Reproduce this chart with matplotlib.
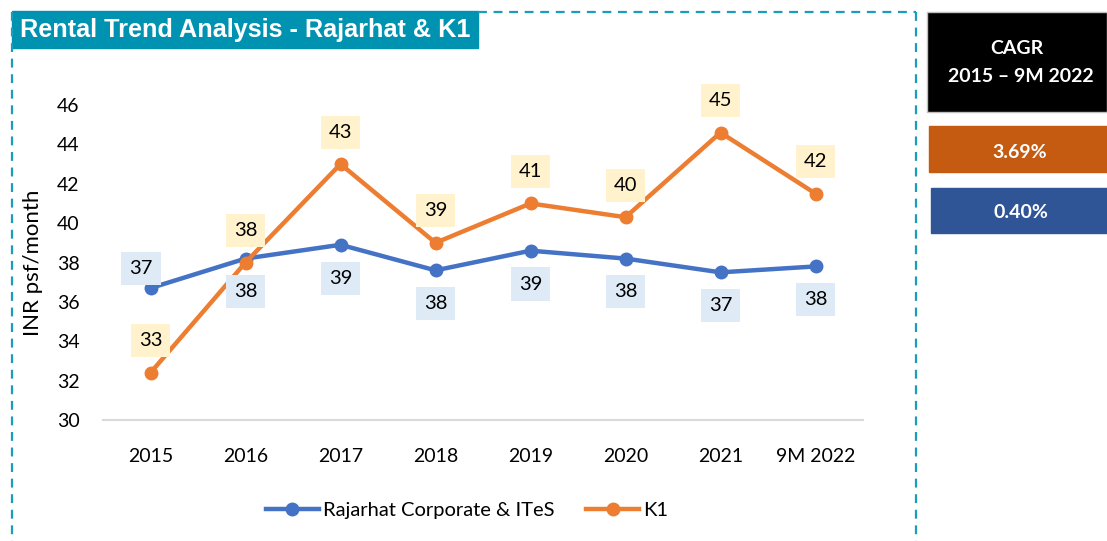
import matplotlib.pyplot as plt
from matplotlib.patches import Rectangle
from matplotlib.lines import Line2D

years = ['2015', '2016', '2017', '2018', '2019', '2020', '2021', '9M 2022']
rajarhat = [36.7, 38.2, 38.9, 37.6, 38.6, 38.2, 37.5, 37.8]
k1 = [32.4, 38.0, 43.0, 39.0, 41.0, 40.3, 44.6, 41.5]
rajarhat_lbl = ['37', '38', '39', '38', '39', '38', '37', '38']
k1_lbl = ['33', '38', '43', '39', '41', '40', '45', '42']
cagr_k1 = '3.69%'
cagr_raj = '0.40%'

W, H = 1107, 541
blue = '#4472C4'
orange = '#ED7D31'
teal = '#0093B1'
font = 'Lato'

fig = plt.figure(figsize=(W / 100, H / 100), dpi=100)


def px(x, y):
    # pixel (top-left origin) -> figure fraction
    return x / W, 1 - y / H


def rect(x0, y0, x1, y1, **kw):
    fx, fy = px(x0, y1)
    fig.add_artist(Rectangle((fx, fy), (x1 - x0) / W, (y1 - y0) / H,
                             transform=fig.transFigure, **kw))


# dashed frame around the chart
dash = dict(color='#1A9DB8', lw=1.6, ls=(0, (4, 3)), transform=fig.transFigure)
fig.add_artist(Line2D([12 / W, 12 / W], [1 - 12 / H, 0], **dash))
fig.add_artist(Line2D([916 / W, 916 / W], [1 - 12 / H, 0], **dash))
fig.add_artist(Line2D([478 / W, 916 / W], [1 - 12 / H, 1 - 12 / H], **dash))

# title banner
rect(12, 11, 478, 48, color=teal)
tx, ty = px(20, 30)
fig.text(tx, ty, 'Rental Trend Analysis - Rajarhat & K1', color='white',
         fontsize=18.2, fontweight='bold', family='Liberation Sans', va='center')

# CAGR boxes
rect(927, 12, 1107, 112, facecolor='black', edgecolor='#BFBFBF', lw=1)
cx, cy = px(1017, 49)
fig.text(cx, cy, 'CAGR', color='white', fontsize=14, fontweight='bold',
         family=font, ha='center', va='center')
cx, cy = px(1021, 77)
fig.text(cx, cy, '2015 \u2013 9M 2022', color='white', fontsize=14, fontweight='bold',
         family=font, ha='center', va='center')
rect(929, 126, 1107, 172, color='#C55A11')
cx, cy = px(1020, 152)
fig.text(cx, cy, cagr_k1, color='white', fontsize=14, fontweight='bold',
         family=font, ha='center', va='center')
rect(931, 188, 1107, 233, color='#2F5597')
cx, cy = px(1021, 213)
fig.text(cx, cy, cagr_raj, color='white', fontsize=14, fontweight='bold',
         family=font, ha='center', va='center')

# main chart
ax = fig.add_axes([103 / W, 1 - 420 / H, 760 / W, 315 / H])
x = list(range(len(years)))
ax.plot(x, rajarhat, color=blue, lw=3.2, marker='o', ms=9,
        label='Rajarhat Corporate & ITeS', zorder=3)
ax.plot(x, k1, color=orange, lw=3.2, marker='o', ms=9, label='K1', zorder=3)

ax.set_xlim(-0.5, len(years) - 0.5)
ax.set_ylim(30, 46)
ax.set_yticks(range(30, 47, 2))
ax.set_xticks(x)
ax.set_xticklabels(years)
for s in ['top', 'right', 'left']:
    ax.spines[s].set_visible(False)
ax.spines['bottom'].set_color('#D9D9D9')
ax.spines['bottom'].set_linewidth(1.5)
ax.tick_params(length=0, labelsize=14, pad=20)
ax.tick_params(axis='y', pad=17)
for t in ax.get_xticklabels() + ax.get_yticklabels():
    t.set_family(font)
ax.set_ylabel('INR psf/month', fontsize=16, family=font, labelpad=10)

for i in range(len(years)):
    ax.annotate(k1_lbl[i], (x[i], k1[i]), xytext=(0, 23), textcoords='offset points',
                ha='center', va='center', fontsize=14.5, family=font,
                bbox=dict(boxstyle='square,pad=0.4', fc='#FFF2CC', ec='none'), zorder=4)
    off = (-7, 14) if i == 0 else (0, -24)
    ax.annotate(rajarhat_lbl[i], (x[i], rajarhat[i]), xytext=off, textcoords='offset points',
                ha='center', va='center', fontsize=14.5, family=font,
                bbox=dict(boxstyle='square,pad=0.4', fc='#DEEBF7', ec='none'), zorder=4)

lx, ly = px(467, 510)
fig.legend(loc='center', bbox_to_anchor=(lx, ly), ncol=2, frameon=False,
           prop={'family': font, 'size': 14.5}, handlelength=2.6, columnspacing=1.6,
           handletextpad=0.2)

fig.savefig('out.png', dpi=100)
